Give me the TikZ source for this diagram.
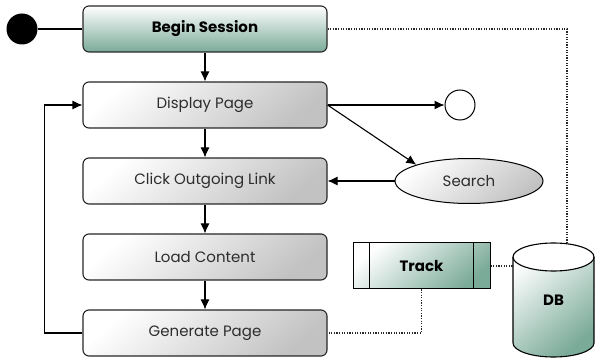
\documentclass[tikz,border=0pt]{standalone}
\usepackage{fontspec}
\setmainfont{Poppins}
\usetikzlibrary{arrows.meta,calc,shapes.geometric}

\definecolor{tealend}{RGB}{122,170,152}
\definecolor{grayend}{RGB}{194,194,194}
\definecolor{txt}{RGB}{45,45,45}

\tikzset{
  stepbox/.style={draw=black!85, line width=1.1pt, rounded corners=6pt,
    minimum width=244pt, minimum height=46pt, inner sep=0pt,
    shading=axis, top color=white, bottom color=grayend, shading angle=40,
    font=\fontsize{15}{17}\selectfont, text=txt},
  keybox/.style={stepbox, bottom color=tealend,
    font=\fontsize{15}{17}\selectfont\bfseries, text=black},
  arr/.style={line width=1.1pt, -{Latex[length=10pt,width=9pt]}},
  plain/.style={line width=1.1pt},
  dotline/.style={line width=1.2pt, dash pattern=on 1.2pt off 1.4pt, black!85},
}

\begin{document}
\begin{tikzpicture}[x=1pt,y=-1pt]
\useasboundingbox (0,0) rectangle (595,358);

% activity steps
\node[keybox]  (begin) at (205,29)  {Begin Session};
\node[stepbox] (disp)  at (205,105) {Display Page};
\node[stepbox] (click) at (205,181) {Click Outgoing Link};
\node[stepbox] (load)  at (205,257) {Load Content};
\node[stepbox] (gen)   at (205,333) {Generate Page};

% initial and final states
\node[circle, fill=black, minimum size=31pt, inner sep=0pt] (start) at (22,29) {};
\node[circle, draw, line width=1pt, fill=white, minimum size=30pt, inner sep=0pt] (final) at (460,105) {};

% search branch
\node[ellipse, draw, line width=1pt, minimum width=148pt, minimum height=45pt, inner sep=0pt,
      shading=axis, top color=white, bottom color=grayend, shading angle=40,
      font=\fontsize{15}{17}\selectfont, text=txt] (search) at (469,181) {Search};

% tracking component
\node[draw, line width=1pt, minimum width=137pt, minimum height=46pt, inner sep=0pt,
      shading=axis, top color=white, bottom color=tealend, shading angle=40,
      font=\fontsize{15}{17}\selectfont\bfseries] (track) at (421.5,266) {Track};
\draw[line width=1pt] ([xshift=17pt]track.north west) -- ([xshift=17pt]track.south west);
\draw[line width=1pt] ([xshift=-17pt]track.north east) -- ([xshift=-17pt]track.south east);

% database cylinder
\shade[shading=axis, top color=white, bottom color=tealend, shading angle=40]
  (513,257) -- (513,343) arc[start angle=180, end angle=360, x radius=40.5, y radius=-14]
  -- (594,257) arc[start angle=0, end angle=180, x radius=40.5, y radius=-14] -- cycle;
\draw[line width=1.1pt, fill=white] (553.5,257) ellipse[x radius=40.5, y radius=14];
\draw[line width=1.1pt] (513,257) -- (513,343) arc[start angle=180, end angle=360, x radius=40.5, y radius=-14] -- (594,257);
\node[font=\fontsize{15}{17}\selectfont\bfseries, minimum width=81pt, minimum height=86pt, inner sep=0pt] (db) at (553.5,300) {DB};
\coordinate (dbtop) at (567,244);

% control flow
\draw[plain] (start) -- (begin.west);
\draw[arr] (begin) -- (disp);
\draw[arr] (disp) -- (click);
\draw[arr] (click) -- (load);
\draw[arr] (load) -- (gen);
\draw[arr] (gen.west) -- ++(-38,0) |- (disp.west);
\draw[arr] (disp.east) -- (final);
\draw[arr] (disp.east) -- (search.north west);
\draw[arr] (search) -- (click.east);

% data links
\draw[dotline] (begin.east) -| (dbtop);
\draw[dotline] (track.east) -- (track.east -| db.west);
\draw[dotline] (track.south) |- (gen.east);
\end{tikzpicture}
\end{document}
